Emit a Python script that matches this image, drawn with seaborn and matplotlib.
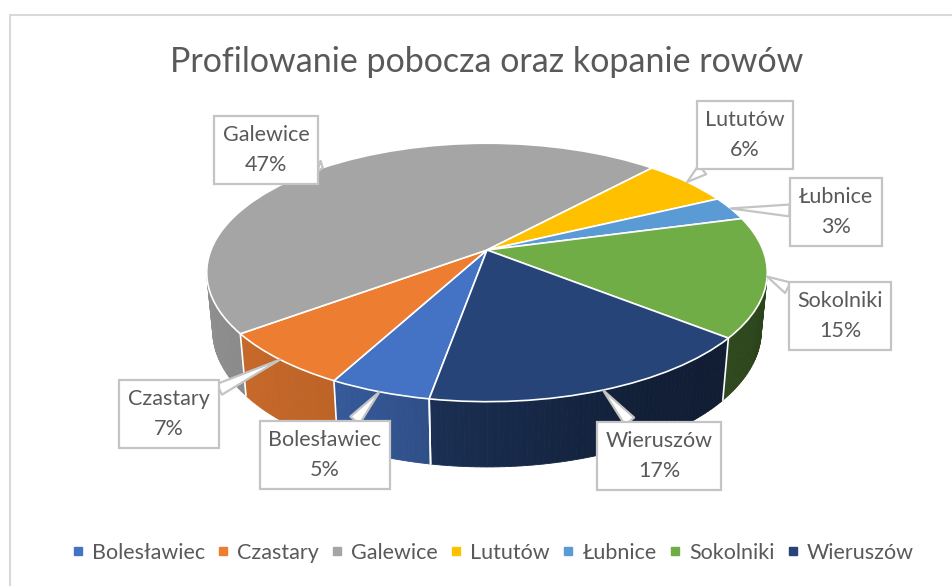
import numpy as np
import matplotlib
matplotlib.use("Agg")
import matplotlib.pyplot as plt
import matplotlib.transforms as mtransforms
from matplotlib.lines import Line2D
from matplotlib.patches import Rectangle
import seaborn as sns

# dane
gminy = ["Bolesławiec", "Czastary", "Galewice", "Lututów", "Łubnice", "Sokolniki", "Wieruszów"]
udzial = [5, 7, 47, 6, 3, 15, 17]
kolory = ["#4472C4", "#ED7D31", "#A5A5A5", "#FFC000", "#5B9BD5", "#70AD47", "#264478"]
tytul = "Profilowanie pobocza oraz kopanie rowów"

# layout: label box centres in pixels
label_xy = [(325, 455), (169, 414), (266, 150), (745, 135), (836, 212), (840, 316), (659, 456)]

sns.set_theme(style="white")
plt.rcParams["font.family"] = ["Lato", "DejaVu Sans"]
TXT = "#595959"
FS = 15.5

# simple perspective for the tilted pie
CX, CY = 487, 250
F, D, TILT, DEPTH = 1416.0, 5.13, np.radians(27), 0.238
START = 260


def project(u, v, h=0.0):
    s, c = np.sin(TILT), np.cos(TILT)
    depth = D + v * c - h * s
    return CX + F * u / depth, CY - F * (v * s + h * c) / depth


class TopFace(mtransforms.Transform):
    input_dims = output_dims = 2

    def transform_non_affine(self, values):
        values = np.asarray(values, dtype=float)
        x, y = project(values[:, 0], values[:, 1])
        return np.column_stack([x, y])


fig = plt.figure(figsize=(9.52, 5.86), dpi=100)
ax = fig.add_axes([0, 0, 1, 1])

top = TopFace() + ax.transData
wedges, _ = ax.pie(udzial, colors=kolory, startangle=START, counterclock=False,
                   labeldistance=None,
                   wedgeprops=dict(transform=top, edgecolor="white", linewidth=1.2))
for w in wedges:
    w.set_zorder(3)
ax.set_aspect("auto")
ax.set_xlim(0, 952)
ax.set_ylim(586, 0)
ax.axis("off")

# side walls of the visible front part
cum = np.concatenate([[0], np.cumsum(udzial)]) / np.sum(udzial) * 360
half = np.degrees(np.arccos(1 / (D * np.cos(TILT))))
vis_lo, vis_hi = 270 - half, 270 + half


def shade(t):
    return np.interp(t, [190, 240, 262, 300, 350], [0.88, 0.8, 0.68, 0.45, 0.38])


for i, col in enumerate(kolory):
    a, b = START - cum[i + 1], START - cum[i]
    rgb = np.array(matplotlib.colors.to_rgb(col))
    for off in (0, 360):
        lo, hi = max(a + off, vis_lo), min(b + off, vis_hi)
        if hi <= lo:
            continue
        n = max(int(hi - lo), 2)
        ts = np.linspace(lo, hi, n + 1)
        for t0, t1 in zip(ts[:-1], ts[1:]):
            tt = np.radians([t0, t1])
            xt, yt = project(np.cos(tt), np.sin(tt))
            xb, yb = project(np.cos(tt[::-1]), np.sin(tt[::-1]), -DEPTH)
            c = rgb * shade((t0 + t1) / 2)
            ax.fill(np.r_[xt, xb], np.r_[yt, yb], color=c, lw=0.6, zorder=1)

for t in START - cum:
    for off in (0, 360):
        tt = t + off
        if vis_lo < tt < vis_hi:
            r = np.radians(tt)
            x0, y0 = project(np.cos(r), np.sin(r))
            x1, y1 = project(np.cos(r), np.sin(r), -DEPTH)
            ax.plot([x0, x1], [y0, y1], color="white", lw=1.2, zorder=2)

# callouts
for i, name in enumerate(gminy):
    mid = np.radians(START - (cum[i] + cum[i + 1]) / 2)
    tip = project(np.cos(mid), np.sin(mid))
    ax.annotate(f"{name}\n{udzial[i]}%", xy=tip, xytext=label_xy[i],
                ha="center", va="center", fontsize=FS, color=TXT, linespacing=1.65,
                bbox=dict(boxstyle="square,pad=0.4", fc="white", ec="#c4c4c4", lw=1.6),
                arrowprops=dict(arrowstyle="wedge,tail_width=0.55,shrink_factor=0.5",
                                fc="white", ec="#c4c4c4", lw=1.6, shrinkA=0, shrinkB=0),
                zorder=5)

fig.text(487 / 952, 1 - 62 / 586, tytul, ha="center", va="center", fontsize=24.5, color=TXT)

handles = [Line2D([], [], marker="s", ls="", color=c, markersize=5.5) for c in kolory]
fig.legend(handles, gminy, loc="center", bbox_to_anchor=(493 / 952, 1 - 553 / 586),
           ncol=7, frameon=False, fontsize=FS, labelcolor=TXT,
           handlelength=0.5, handletextpad=0.4, columnspacing=0.6)

fig.patches.append(Rectangle((9.5 / 952, -0.1), 2, 1 - 15 / 586 + 0.1, transform=fig.transFigure,
                             fill=False, ec="#d9d9d9", lw=1.5))

fig.savefig("out.png", dpi=100, facecolor="white")
